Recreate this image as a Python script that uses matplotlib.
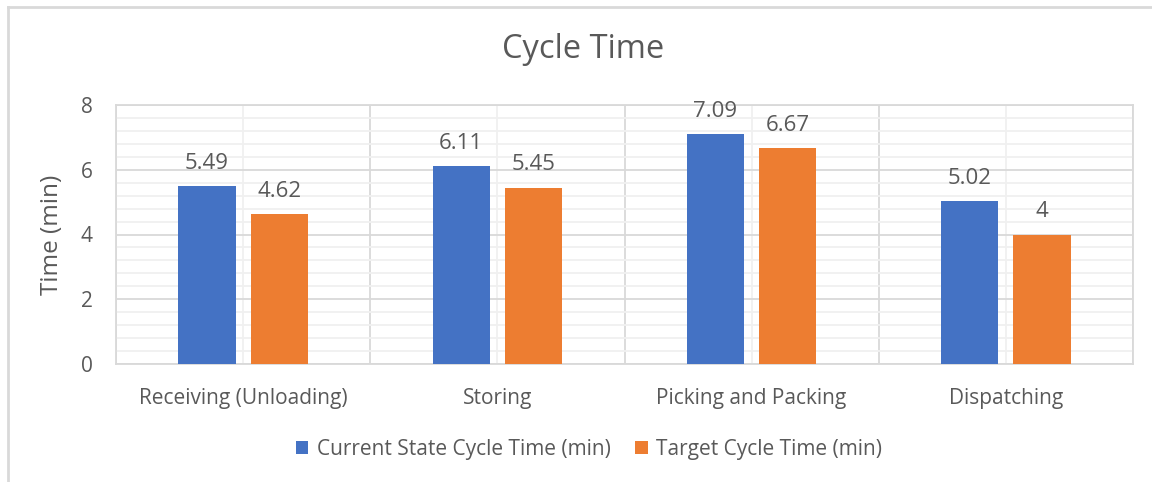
import matplotlib.pyplot as plt
import numpy as np
from matplotlib.ticker import MultipleLocator, FixedLocator

plt.rcParams['font.family'] = ['Open Sans', 'DejaVu Sans']

stages = ["Receiving (Unloading)", "Storing", "Picking and Packing", "Dispatching"]
current = [5.49, 6.11, 7.09, 5.02]
target = [4.62, 5.45, 6.67, 4]
current_label = "Current State Cycle Time (min)"
target_label = "Target Cycle Time (min)"

text_col = '#595959'
blue = '#4472C4'
orange = '#ED7D31'

fig = plt.figure(figsize=(11.52, 4.82), dpi=100)
ax = fig.add_axes([116 / 1152, 1 - 364 / 482, (1133 - 116) / 1152, (364 - 105) / 482])

x = np.arange(len(stages))
w = 0.225
off = 0.142
b1 = ax.bar(x - off, current, w, color=blue, label=current_label, zorder=3)
b2 = ax.bar(x + off, target, w, color=orange, label=target_label, zorder=3)

for bars, vals in ((b1, current), (b2, target)):
    for rect, v in zip(bars, vals):
        ax.annotate(f"{v:g}", (rect.get_x() + rect.get_width() / 2, v),
                    xytext=(0, 9), textcoords='offset points',
                    ha='center', va='bottom', fontsize=16, color=text_col)

ax.set_xlim(-0.5, len(stages) - 0.5)
ax.set_ylim(0, 8)
ax.yaxis.set_major_locator(MultipleLocator(2))
ax.yaxis.set_minor_locator(MultipleLocator(0.4))
ax.set_xticks(x)
ax.set_xticklabels(stages)
ax.xaxis.set_minor_locator(FixedLocator(np.arange(-0.5, len(stages), 1)))

# category dividers are the darker lines, bar centres get faint ones
ax.grid(which='major', axis='y', color='#d9d9d9', lw=1.3, zorder=0)
ax.grid(which='minor', axis='y', color='#f0f0f0', lw=1.3, zorder=0)
ax.grid(which='minor', axis='x', color='#d9d9d9', lw=1.3, zorder=0)
ax.grid(which='major', axis='x', color='#f0f0f0', lw=1.3, zorder=0)
ax.set_axisbelow(True)
for s in ax.spines.values():
    s.set_color('#d9d9d9')
    s.set_linewidth(1.3)
ax.tick_params(which='both', length=0, colors=text_col, labelsize=15)
ax.tick_params(axis='x', pad=17)
ax.tick_params(axis='y', pad=17)
ax.set_ylabel("Time (min)", fontsize=17.5, color=text_col)
ax.yaxis.set_label_coords(-52 / 1017, 0.5)

fig.text(583 / 1152, 1 - 50 / 482, "Cycle Time", ha='center', va='center',
         fontsize=23.5, color=text_col)

fig.legend(loc='center', bbox_to_anchor=(589 / 1152, 1 - 449 / 482), ncol=2,
           frameon=False, fontsize=15, labelcolor=text_col,
           handlelength=0.6, handleheight=0.6, handletextpad=0.4, columnspacing=1.2)

# outer chart frame (left and top edges visible)
fig.add_artist(plt.Line2D([8 / 1152, 8 / 1152], [0, 1 - 7 / 482], color='#d9d9d9', lw=2))
fig.add_artist(plt.Line2D([8 / 1152, 1], [1 - 7 / 482, 1 - 7 / 482], color='#d9d9d9', lw=2))

fig.savefig('out.png', dpi=100, facecolor='white')
